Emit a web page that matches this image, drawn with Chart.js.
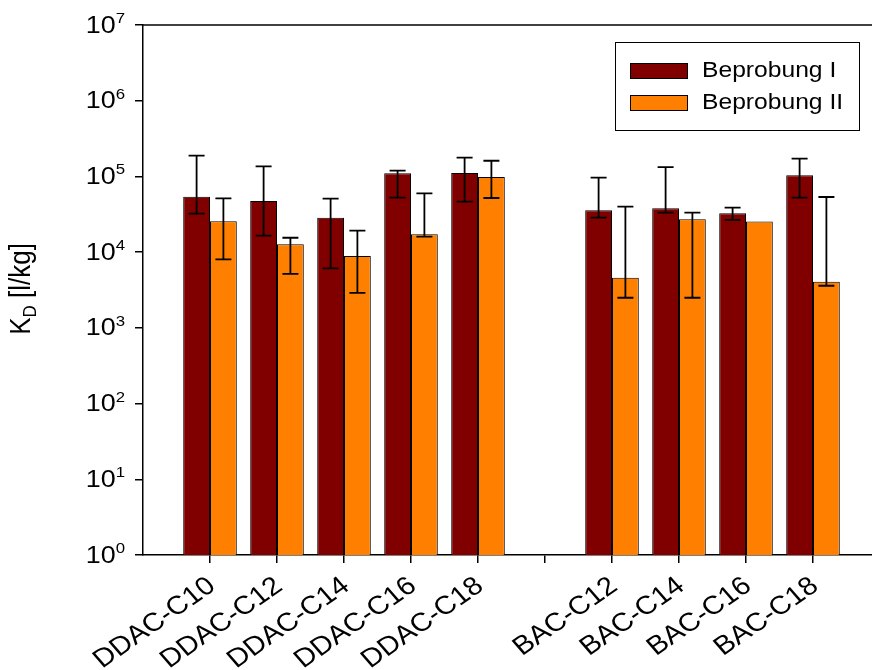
<!DOCTYPE html>
<html>
<head>
<meta charset="utf-8">
<script src="https://cdn.jsdelivr.net/npm/chart.js@4.4.0/dist/chart.umd.min.js"></script>
<style>
  html, body { margin: 0; padding: 0; background: #fff; overflow: hidden; }
</style>
</head>
<body>
<canvas id="chart" width="872" height="670"></canvas>
<script>
// categories (the empty one is the gap between the DDAC and BAC groups)
const categories = ["DDAC-C10", "DDAC-C12", "DDAC-C14", "DDAC-C16", "DDAC-C18", "", "BAC-C12", "BAC-C14", "BAC-C16", "BAC-C18"];
const seriesNames = ["Beprobung I", "Beprobung II"];

// KD values [l/kg]
const probeI      = [54000, 47400, 28500, 110000, 111000, null, 35700, 38000, 32600, 104000];
const probeIUpper = [188000, 136000, 50800, 119000, 177000, null, 96300, 133000, 38700, 172000];
const probeILower = [32200, 16500, 6120, 52400, 46400, null, 28500, 33300, 26600, 52400];

const probeII      = [25500, 12700, 8900, 17200, 98400, null, 4600, 27200, 25300, 4070];
const probeIIUpper = [51400, 15500, 19200, 59800, 161000, null, 39900, 33200, null, 53500];
const probeIILower = [8050, 5150, 2890, 16000, 51900, null, 2500, 2500, null, 3600];

const yTicks = [1, 10, 100, 1000, 10000, 100000, 1000000, 10000000];

const colors = ["#800000", "#ff8000"];
const FONT = "'Liberation Sans', Arial, sans-serif";
const SX = 1.12; // the original figure's text is a bit wider than tall

function toPoints(values) {
  return values.map((v, i) => ({ x: i + 1, y: v })).filter(p => p.y !== null);
}

const errors = [
  { lower: probeILower, upper: probeIUpper },
  { lower: probeIILower, upper: probeIIUpper }
];

// draw text with the horizontal stretch, anchored at (x, y)
function wideText(ctx, txt, x, y, align) {
  ctx.save();
  ctx.translate(x, y);
  ctx.scale(SX, 1);
  ctx.textAlign = align;
  ctx.fillText(txt, 0, 0);
  ctx.restore();
}

const decorations = {
  id: "decorations",
  afterDatasetsDraw(chart) {
    const ctx = chart.ctx;
    const area = chart.chartArea;
    const xs = chart.scales.x;
    const ys = chart.scales.y;

    // top frame line
    ctx.save();
    ctx.strokeStyle = "#000";
    ctx.lineWidth = 1.5;
    ctx.beginPath();
    ctx.moveTo(area.left, area.top);
    ctx.lineTo(area.right, area.top);
    ctx.stroke();

    // error bars
    ctx.lineWidth = 1.8;
    chart.data.datasets.forEach((ds, d) => {
      const meta = chart.getDatasetMeta(d);
      meta.data.forEach((bar, j) => {
        const idx = ds.data[j].x - 1;
        const lo = errors[d].lower[idx];
        const hi = errors[d].upper[idx];
        if (lo === null || hi === null) return;
        const yLo = ys.getPixelForValue(lo);
        const yHi = ys.getPixelForValue(hi);
        ctx.beginPath();
        ctx.moveTo(bar.x, yLo);
        ctx.lineTo(bar.x, yHi);
        ctx.moveTo(bar.x - 8, yLo);
        ctx.lineTo(bar.x + 8, yLo);
        ctx.moveTo(bar.x - 8, yHi);
        ctx.lineTo(bar.x + 8, yHi);
        ctx.stroke();
      });
    });

    ctx.fillStyle = "#000";

    // y tick labels 10^n
    yTicks.forEach(v => {
      const y = ys.getPixelForValue(v);
      const exp = String(Math.round(Math.log10(v)));
      ctx.font = "15px " + FONT;
      const ew = ctx.measureText(exp).width * SX;
      const right = 125;
      ctx.textBaseline = "alphabetic";
      wideText(ctx, exp, right - ew, y - 2, "left");
      ctx.font = "24px " + FONT;
      ctx.textBaseline = "middle";
      wideText(ctx, "10", right - ew, y + 1, "right");
    });

    // y axis title
    ctx.save();
    ctx.translate(30, 289);
    ctx.scale(SX, 1);
    ctx.rotate(-Math.PI / 2);
    ctx.textBaseline = "alphabetic";
    ctx.textAlign = "left";
    ctx.font = "26px " + FONT;
    const kW = ctx.measureText("K").width;
    ctx.font = "17px " + FONT;
    const dW = ctx.measureText("D").width;
    ctx.font = "26px " + FONT;
    const restW = ctx.measureText(" [l/kg]").width;
    const x0 = -(kW + dW + restW) / 2;
    ctx.fillText("K", x0, 0);
    ctx.font = "17px " + FONT;
    ctx.fillText("D", x0 + kW, 5);
    ctx.font = "26px " + FONT;
    ctx.fillText(" [l/kg]", x0 + kW + dW, 0);
    ctx.restore();

    // x category labels, rotated
    ctx.font = "26px " + FONT;
    categories.forEach((c, i) => {
      if (!c) return;
      const px = xs.getPixelForValue(i + 1);
      ctx.save();
      ctx.translate(px + 2, 583);
      ctx.scale(SX, 1);
      ctx.rotate(-38 * Math.PI / 180);
      ctx.textAlign = "right";
      ctx.textBaseline = "middle";
      ctx.fillText(c, 0, 0);
      ctx.restore();
    });

    // legend
    ctx.lineWidth = 1;
    ctx.strokeStyle = "#000";
    ctx.strokeRect(615.5, 42.5, 244, 88);
    seriesNames.forEach((name, k) => {
      const top = 63 + k * 32;
      ctx.fillStyle = colors[k];
      ctx.fillRect(630, top, 57, 15);
      ctx.strokeRect(630.5, top + 0.5, 57, 15);
      ctx.fillStyle = "#000";
      ctx.font = "22px " + FONT;
      ctx.textBaseline = "middle";
      wideText(ctx, name, 702, top + 8, "left");
    });

    ctx.restore();
  }
};

new Chart(document.getElementById("chart").getContext("2d"), {
  type: "bar",
  data: {
    datasets: [
      { label: seriesNames[0], data: toPoints(probeI), backgroundColor: colors[0], borderColor: "#000", borderWidth: 1 },
      { label: seriesNames[1], data: toPoints(probeII), backgroundColor: colors[1], borderColor: "#000", borderWidth: 1 }
    ]
  },
  options: {
    responsive: false,
    animation: false,
    layout: { padding: { top: 25, right: 0, bottom: 0, left: 0 } },
    datasets: { bar: { categoryPercentage: 0.8, barPercentage: 1.0 } },
    plugins: {
      legend: { display: false },
      tooltip: { enabled: false }
    },
    scales: {
      x: {
        type: "linear",
        offset: false,
        min: 0,
        max: 729 / 67,
        afterBuildTicks: s => { s.ticks = categories.map((c, i) => ({ value: i + 1 })); },
        afterFit: s => { s.height = 115; },
        ticks: { display: false },
        grid: { offset: false, drawOnChartArea: false, drawTicks: true, tickLength: 8, color: "#000", lineWidth: 1.5 },
        border: { display: true, color: "#000", width: 1.5 }
      },
      y: {
        type: "logarithmic",
        min: 1,
        max: 1e7,
        afterBuildTicks: s => { s.ticks = yTicks.map(v => ({ value: v })); },
        afterFit: s => { s.width = 143; },
        ticks: { display: false },
        grid: { drawOnChartArea: false, drawTicks: true, tickLength: 8, color: "#000", lineWidth: 1.5 },
        border: { display: true, color: "#000", width: 1.5 }
      }
    }
  },
  plugins: [decorations]
});
</script>
</body>
</html>
